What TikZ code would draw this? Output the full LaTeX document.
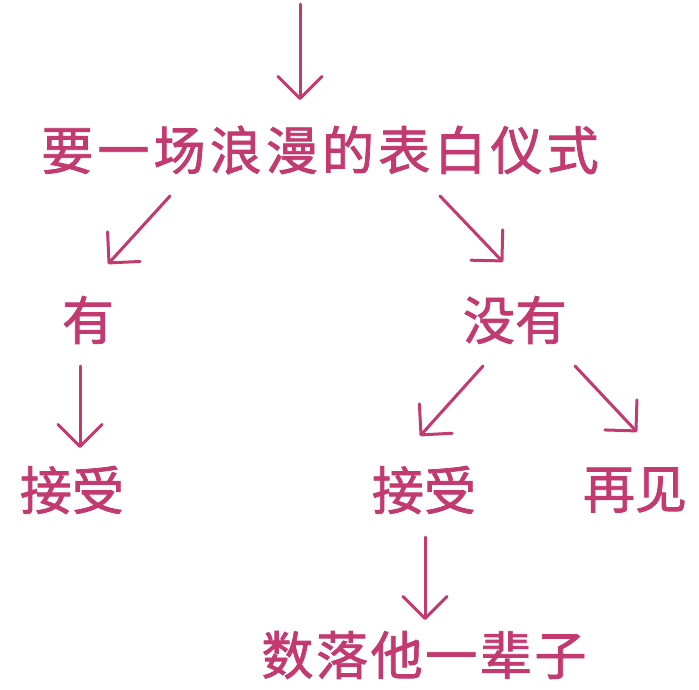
\documentclass[tikz,border=0pt]{standalone}
\usepackage{fontspec}
\newfontfamily\cjk[FakeBold=1.5]{Noto Sans CJK SC}
\usetikzlibrary{arrows.meta}
\definecolor{pinkline}{HTML}{C23A70}
\tikzset{
  lbl/.style={text=pinkline, inner sep=0pt, font=\cjk\fontsize{52}{52}\selectfont},
  arr/.style={draw=pinkline, line width=3pt, line cap=round,
    -{Straight Barb[length=22pt,width=44pt,line width=3pt,round]}}
}
\begin{document}
\begin{tikzpicture}[x=1pt,y=-1pt]
\useasboundingbox[fill=white] (0,0) rectangle (699,689);
% nodes
\node[lbl, font=\cjk\fontsize{52}{52}\selectfont\addfontfeature{LetterSpace=8}] (title) at (320,150) {要一场浪漫的表白仪式};
\node[lbl] (you) at (88,320) {有};
\node[lbl] (meiyou) at (515,320) {没有};
\node[lbl] (jsL) at (72,490) {接受};
\node[lbl] (jsR) at (424,490) {接受};
\node[lbl] (zj) at (635,490) {再见};
\node[lbl, font=\cjk\fontsize{52}{52}\selectfont\addfontfeature{LetterSpace=5}] (sl) at (424,655) {数落他一辈子};
% arrow end points
\coordinate (top) at (300,4);
\coordinate (topE) at (300,100);
\coordinate (dLs) at (170,196);
\coordinate (dLe) at (108,264);
\coordinate (dRs) at (440,196);
\coordinate (dRe) at (503,262);
\coordinate (vLs) at (80,366);
\coordinate (vLe) at (80,448);
\coordinate (mLs) at (483,366);
\coordinate (mLe) at (420,436);
\coordinate (mRs) at (575,366);
\coordinate (mRe) at (637,432);
\coordinate (vRs) at (425,537);
\coordinate (vRe) at (425,620);
% connectors
\draw[arr] (top) -- (topE);
\draw[arr] (dLs) -- (dLe);
\draw[arr] (dRs) -- (dRe);
\draw[arr] (vLs) -- (vLe);
\draw[arr] (mLs) -- (mLe);
\draw[arr] (mRs) -- (mRe);
\draw[arr] (vRs) -- (vRe);
\end{tikzpicture}
\end{document}
